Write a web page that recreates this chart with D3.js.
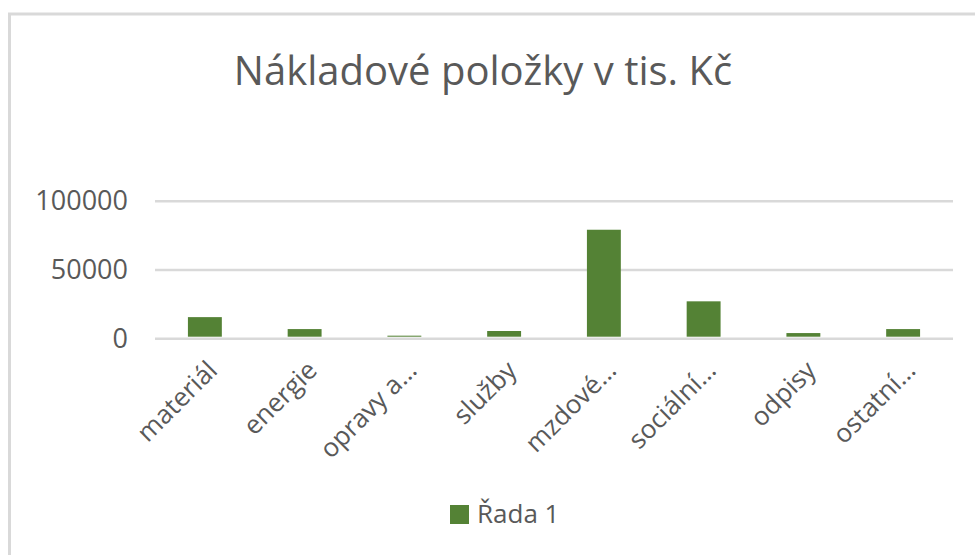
<!DOCTYPE html>
<html>
<head>
<meta charset="utf-8">
<script src="https://cdn.jsdelivr.net/npm/d3@7"></script>
<style>
  html, body { margin: 0; padding: 0; background: #ffffff; }
  svg { display: block; font-family: "Open Sans", "Noto Sans", sans-serif; }
</style>
</head>
<body>
<div id="chart"></div>
<script>
"use strict";

// chart data
const categories = ["materiál", "energie", "opravy a…", "služby", "mzdové…", "sociální…", "odpisy", "ostatní…"];
const values = [15700, 7000, 2200, 5600, 79300, 27200, 4100, 7000];
const y_ticks = [0, 50000, 100000];
const series_name = "Řada 1";
const chart_title = "Nákladové položky v tis. Kč";

const width = 975;
const height = 555;
const text_color = "#595959";
const grid_color = "#d9d9d9";
const bar_color = "#548235";

const svg = d3.select("#chart")
    .append("svg")
    .attr("width", width)
    .attr("height", height)
    .attr("viewBox", [0, 0, width, height]);

// chart area border (only top and left visible in the frame)
svg.append("rect")
    .attr("x", 9.5)
    .attr("y", 14)
    .attr("width", width + 20)
    .attr("height", height + 20)
    .style("fill", "#ffffff")
    .style("stroke", grid_color)
    .style("stroke-width", 3);

svg.append("text")
    .attr("x", 483)
    .attr("y", 85)
    .attr("text-anchor", "middle")
    .style("font-size", "40px")
    .style("fill", text_color)
    .text(chart_title);

const x = d3.scaleBand()
    .domain(categories)
    .range([155, 953])
    .paddingInner(0.66)
    .paddingOuter(0.33);

const y = d3.scaleLinear()
    .domain([0, 100000])
    .range([338.7, 201.3]);

// gridlines
svg.selectAll("line.grid")
    .data(y_ticks)
    .enter()
    .append("line")
    .attr("class", "grid")
    .attr("x1", 155)
    .attr("x2", 953)
    .attr("y1", d => y(d))
    .attr("y2", d => y(d))
    .style("stroke", grid_color)
    .style("stroke-width", 2.5);

// y axis labels
svg.selectAll("text.ytick")
    .data(y_ticks)
    .enter()
    .append("text")
    .attr("class", "ytick")
    .attr("x", 128)
    .attr("y", d => y(d))
    .attr("dy", "0.33em")
    .attr("text-anchor", "end")
    .style("font-size", "27px")
    .style("fill", text_color)
    .text(d => d);

// bars
svg.selectAll("rect.bar")
    .data(values)
    .enter()
    .append("rect")
    .attr("class", "bar")
    .attr("x", (d, i) => x(categories[i]))
    .attr("y", d => y(d))
    .attr("width", x.bandwidth())
    .attr("height", d => y(0) - 2 - y(d))
    .style("fill", bar_color);

// category labels, rotated
svg.selectAll("text.xtick")
    .data(categories)
    .enter()
    .append("text")
    .attr("class", "xtick")
    .attr("text-anchor", "end")
    .attr("transform", d => "translate(" + (x(d) + x.bandwidth() / 2 + 14) + ",372) rotate(-45)")
    .style("font-size", "26px")
    .style("fill", text_color)
    .text(d => d);

// legend
svg.append("rect")
    .attr("x", 450)
    .attr("y", 505)
    .attr("width", 19)
    .attr("height", 19)
    .style("fill", bar_color);

svg.append("text")
    .attr("x", 477)
    .attr("y", 523)
    .style("font-size", "26px")
    .style("fill", text_color)
    .text(series_name);
</script>
</body>
</html>
